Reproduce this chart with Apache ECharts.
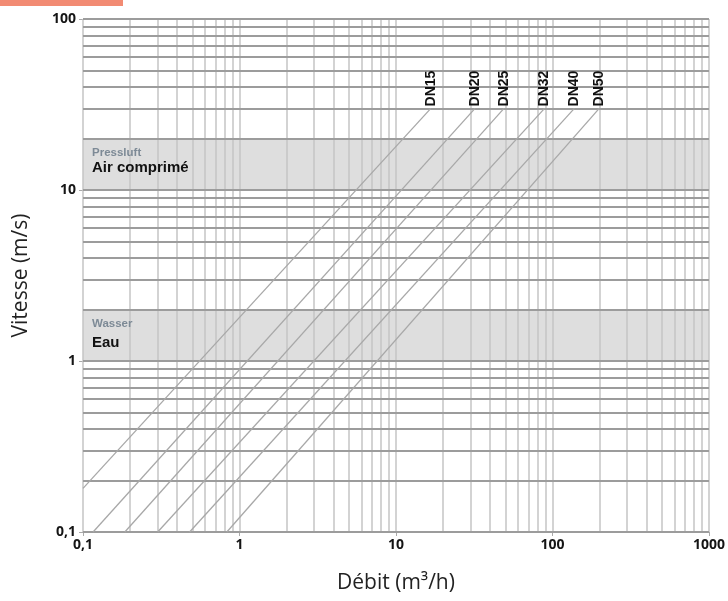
<!DOCTYPE html>
<html><head><meta charset="utf-8">
<style>html,body{margin:0;padding:0;background:#fff}#c{width:728px;height:601px}</style>
<script src="https://cdn.jsdelivr.net/npm/echarts@6/dist/echarts.min.js"></script>
</head><body><div id="c"></div>
<script>
// Tick labels
const xTickValues = [0.1, 1, 10, 100, 1000];
const xTickLabels = ['0,1', '1', '10', '100', '1000'];
const yTickValues = [0.1, 1, 10, 100];
const yTickLabels = ['0,1', '1', '10', '100'];
// Grid lines (log grid: 1..9 in each decade)
const xGridValues = [0.1,0.2,0.3,0.4,0.5,0.6,0.7,0.8,0.9,1,2,3,4,5,6,7,8,9,10,20,30,40,50,60,70,80,90,100,200,300,400,500,600,700,800,900,1000];
const yGridValues = [0.1,0.2,0.3,0.4,0.5,0.6,0.7,0.8,0.9,1,2,3,4,5,6,7,8,9,10,20,30,40,50,60,70,80,90,100];
// Pipe lines (start / end points)
const dnNames = ['DN15','DN20','DN25','DN32','DN40','DN50'];
const startQ = [0.1, 0.116, 0.185, 0.30, 0.48, 0.83];
const startV = [0.18, 0.1, 0.1, 0.1, 0.1, 0.1];
const endQ = [16.7, 32, 49, 89, 138, 199];
const endV = [30, 30, 30, 30, 30, 30];
// Bands
const bandNames = [['Pressluft','Air comprimé'], ['Wasser','Eau']];
const bandLow = [10, 1];
const bandHigh = [20, 2];

function fmt(values, labels) {
  return function (v) {
    const i = values.findIndex(t => Math.abs(Math.log10(t) - Math.log10(v)) < 1e-6);
    return i >= 0 ? labels[i] : '';
  };
}
const numFont = {fontFamily: 'Open Sans', fontWeight: 'bold', fontSize: 14, color: '#151515'};

const chart = echarts.init(document.getElementById('c'));
const series = [];
// band fills (below grid lines)
series.push({
  type: 'line', data: [[0.1, 0.1]], symbol: 'none', lineStyle: {opacity: 0}, silent: true, z: 1,
  markArea: {
    silent: true, z: 1,
    itemStyle: {color: '#dedede'},
    data: bandNames.map((nm, i) => [{yAxis: bandLow[i]}, {yAxis: bandHigh[i]}])
  }
});
series.push({
  type: 'line', data: [[0.1, 0.1]], symbol: 'none', lineStyle: {opacity: 0}, silent: true, z: 2,
  markLine: {
    silent: true, z: 2, symbol: 'none', label: {show: false}, animation: false,
    lineStyle: {color: '#c4c4c4', width: 1.5, type: 'solid'},
    data: xGridValues.map(v => ({xAxis: v}))
  }
});
series.push({
  type: 'line', data: [[0.1, 0.1]], symbol: 'none', lineStyle: {opacity: 0}, silent: true, z: 2,
  markLine: {
    silent: true, z: 2, symbol: 'none', label: {show: false}, animation: false,
    lineStyle: {color: '#9c9c9c', width: 2, type: 'solid'},
    data: yGridValues.map(v => ({yAxis: v}))
  }
});
// band labels (above grid lines)
series.push({
  type: 'line', data: [[0.1, 0.1]], symbol: 'none', lineStyle: {opacity: 0}, silent: true, z: 5,
  markArea: {
    silent: true, z: 5,
    itemStyle: {color: 'rgba(0,0,0,0)'},
    data: bandNames.map((nm, i) => [
      {yAxis: bandLow[i], label: {show: true, position: [9, 7],
        formatter: '{a|' + nm[0] + '}\n{b|' + nm[1] + '}',
        rich: {
          a: {fontFamily: 'Liberation Sans', fontWeight: 'bold', fontSize: 11.5, color: '#7d8a96', lineHeight: 14},
          b: {fontFamily: 'Liberation Sans', fontWeight: 'bold', fontSize: 15, color: '#111', lineHeight: i === 0 ? 16 : 25}
        }}},
      {yAxis: bandHigh[i]}
    ])
  }
});
dnNames.forEach((nm, i) => {
  series.push({
    type: 'line', name: nm, z: 3, silent: true,
    symbol: 'circle', symbolSize: 0.01, showSymbol: true,
    itemStyle: {color: '#a8a8a8'},
    lineStyle: {color: '#a8a8a8', width: 1.3},
    data: [
      [startQ[i], startV[i]],
      {value: [endQ[i], endV[i]], label: {show: true, formatter: nm, position: 'top', distance: 2,
        rotate: 90, align: 'left', verticalAlign: 'middle',
        fontFamily: 'Liberation Sans', fontWeight: 'bold', fontSize: 14, color: '#111'}}
    ]
  });
});

chart.setOption({
  animation: false,
  graphic: [{type: 'rect', left: 0, top: 0, shape: {width: 123, height: 6}, style: {fill: '#f28b73'}}],
  grid: {left: 83, right: 17, top: 19, bottom: 69},
  xAxis: {
    type: 'log', logBase: 10, min: 0.1, max: 1000,
    name: 'Débit (m³/h)', nameLocation: 'middle', nameGap: 41,
    nameTextStyle: {fontFamily: 'Open Sans', fontSize: 21, color: '#222'},
    axisLine: {show: false},
    axisTick: {show: true, length: 4, lineStyle: {color: '#aaa'}},
    axisLabel: Object.assign({margin: 6, formatter: fmt(xTickValues, xTickLabels)}, numFont),
    splitLine: {show: false}, minorTick: {show: false}
  },
  yAxis: {
    type: 'log', logBase: 10, min: 0.1, max: 100,
    name: 'Vitesse (m/s)', nameLocation: 'middle', nameGap: 51,
    nameTextStyle: {fontFamily: 'Open Sans', fontSize: 21, color: '#222'},
    axisLine: {show: false},
    axisTick: {show: true, length: 4, lineStyle: {color: '#aaa'}},
    axisLabel: Object.assign({margin: 7, formatter: fmt(yTickValues, yTickLabels)}, numFont),
    splitLine: {show: false}
  },
  series: series
});
</script>
</body></html>
